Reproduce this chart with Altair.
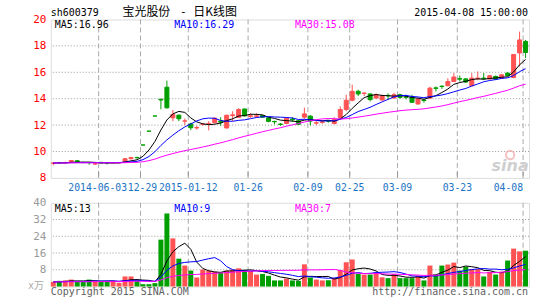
import altair as alt
import pandas as pd

# Daily bars for sh600379, oldest first (price in CNY, volume in 万手)
opens = [9.10, 9.15, 9.14, 9.20, 9.30, 9.18, 9.17, 9.05, 9.18, 9.15,
         9.14, 9.15, 9.25, 9.45, 9.55, 10.49, 11.54, 12.69, 13.96, 14.87,
         12.55, 12.75, 12.30, 12.08, 11.78, 12.05, 12.08, 12.18, 12.30, 11.78,
         12.72, 12.58, 13.22, 12.66, 12.66, 12.72, 12.55, 12.28, 12.08, 12.12,
         12.45, 12.33, 12.60, 12.68, 12.15, 12.20, 12.33, 12.12, 12.55, 13.18,
         13.88, 14.56, 14.40, 14.36, 14.05, 13.90, 14.25, 14.05, 14.30, 14.12,
         14.10, 13.60, 13.90, 14.05, 14.82, 14.95, 14.98, 15.30, 15.52, 15.50,
         14.98, 15.52, 15.56, 15.50, 15.69, 15.56, 15.94, 15.60, 17.46, 18.34]
highs = [9.16, 9.17, 9.22, 9.35, 9.32, 9.20, 9.19, 9.12, 9.20, 9.17,
         9.17, 9.17, 9.50, 9.58, 9.60, 10.49, 11.54, 12.69, 13.96, 15.37,
         13.15, 12.80, 12.50, 12.18, 11.95, 12.15, 12.30, 12.60, 12.60, 12.78,
         13.05, 13.28, 13.25, 12.90, 12.90, 12.75, 12.58, 12.33, 12.15, 12.55,
         12.60, 12.36, 13.32, 12.75, 12.32, 12.35, 12.38, 12.60, 13.42, 14.30,
         15.06, 14.68, 14.45, 14.40, 14.40, 14.30, 14.40, 14.45, 14.38, 14.30,
         14.30, 14.00, 13.95, 14.90, 14.92, 15.00, 15.55, 15.94, 15.75, 15.55,
         15.94, 16.06, 15.94, 15.80, 15.75, 15.85, 16.00, 17.38, 19.08, 18.45]
lows = [8.95, 9.12, 9.10, 9.18, 9.15, 9.12, 9.00, 8.98, 9.10, 9.02,
        9.12, 9.13, 9.22, 9.40, 9.45, 10.49, 11.54, 12.69, 13.20, 13.25,
        12.30, 12.30, 12.00, 11.62, 11.65, 11.95, 11.60, 12.15, 11.95, 11.75,
        12.30, 12.55, 12.65, 12.55, 12.55, 12.55, 12.22, 12.05, 11.95, 12.10,
        12.25, 12.02, 12.48, 11.97, 12.00, 12.10, 12.18, 12.05, 12.40, 13.05,
        13.80, 14.20, 14.20, 13.80, 14.00, 13.85, 13.92, 14.00, 14.00, 13.95,
        13.68, 13.55, 13.70, 14.00, 14.55, 14.75, 14.95, 15.28, 15.30, 15.20,
        14.95, 15.40, 15.40, 15.45, 15.45, 15.50, 15.70, 15.55, 16.44, 17.08]
closes = [9.13, 9.15, 9.17, 9.32, 9.18, 9.16, 9.15, 9.07, 9.13, 9.14,
          9.16, 9.16, 9.45, 9.55, 9.53, 10.49, 11.54, 12.69, 13.90, 13.31,
          12.80, 12.48, 12.32, 11.80, 11.82, 12.08, 12.12, 12.52, 12.22, 12.75,
          12.78, 13.18, 12.70, 12.70, 12.70, 12.60, 12.28, 12.25, 12.05, 12.52,
          12.40, 12.06, 12.85, 12.30, 12.18, 12.24, 12.29, 12.42, 13.18, 13.88,
          14.56, 14.36, 14.43, 13.93, 14.30, 14.22, 14.22, 14.30, 14.10, 14.10,
          13.73, 13.98, 13.86, 14.80, 14.78, 14.92, 15.30, 15.64, 15.48, 15.26,
          15.56, 15.56, 15.52, 15.74, 15.49, 15.81, 15.74, 17.35, 18.45, 17.50]
volumes = [2.2, 2.7, 2.9, 3.3, 2.2, 2.2, 3.3, 2.7, 2.4, 2.4,
           2.4, 1.7, 4.8, 4.8, 2.9, 1.1, 1.1, 1.6, 22.4, 34.9,
           23.0, 13.3, 10.0, 7.6, 4.3, 8.1, 7.6, 7.1, 6.7, 7.6,
           8.1, 8.7, 7.9, 7.5, 5.7, 6.0, 5.1, 2.9, 2.9, 3.8,
           2.9, 2.7, 10.6, 4.3, 3.3, 2.9, 3.0, 4.1, 7.9, 11.6,
           12.9, 6.0, 5.7, 5.7, 6.8, 4.4, 4.0, 5.9, 4.0, 4.0,
           4.0, 5.1, 2.9, 10.0, 5.7, 10.0, 10.5, 11.4, 7.6, 9.5,
           8.3, 8.3, 4.8, 7.0, 5.7, 7.1, 12.4, 18.1, 16.8, 17.1]

# Date ticks: bar slot and label
tick_slots = [8, 15, 23, 33, 43, 50, 58, 68, 79]
tick_labels = ["2014-06-03", "12-29", "2015-01-12", "01-26", "02-09",
               "02-25", "03-09", "03-23", "04-08"]

ma_windows = [5, 10, 30]
ma_colors = ["#000000", "#0000ff", "#ff00ff"]
price_ma_labels = ["MA5:16.96", "MA10:16.29", "MA30:15.08"]
volume_ma_labels = ["MA5:13", "MA10:9", "MA30:7"]
legend_x = [4, 124, 245]

price_ticks = [8, 10, 12, 14, 16, 18, 20]
volume_ticks = [8, 16, 24, 32, 40]

UP, DOWN = "#ff5252", "#009f00"
GRID = "#aaaaaa"
MONO = "DejaVu Sans Mono"
CJK = "Noto Sans CJK SC"
W, H_PRICE, H_VOL = 480, 159, 84
SLOTS = 80


def moving_average(values, n):
    # the series was flat before the first bar, so pad with the first value
    s = pd.Series([values[0]] * (n - 1) + list(values), dtype=float)
    return s.rolling(n).mean().iloc[n - 1:].round(4).tolist()


n = len(closes)
bars = pd.DataFrame({
    "slot": list(range(n)),
    "open": opens, "high": highs, "low": lows, "close": closes,
    "volume": volumes,
})
bars["body_l"] = bars["slot"] + 0.5 / 6
bars["body_r"] = bars["slot"] + 4.5 / 6
bars["mid"] = bars["slot"] + 2.5 / 6
bars["vol_r"] = bars["slot"] + 5 / 6
bars["dir"] = ["up" if c > o else "down" for o, c in zip(opens, closes)]
for w in ma_windows:
    bars[f"ma{w}"] = moving_average(closes, w)
    bars[f"vma{w}"] = moving_average(volumes, w)

ticks = pd.DataFrame({"slot": tick_slots, "label": tick_labels})

x_scale = alt.Scale(domain=[0, SLOTS], nice=False, zero=False)
X_NONE = dict(scale=x_scale, axis=None)
dir_color = alt.Color("dir:N", scale=alt.Scale(domain=["up", "down"], range=[UP, DOWN]), legend=None)


def y_axis(values, color):
    return alt.Axis(values=values, labelColor=color, labelFont=MONO, labelFontSize=11,
                    labelOverlap=False, grid=False, domain=False, ticks=False,
                    labelPadding=5, title=None)


def hgrid(values, scale, axis):
    return alt.Chart(pd.DataFrame({"v": values})).mark_rule(
        color="#999999", strokeDash=[1, 2], strokeWidth=1
    ).encode(y=alt.Y("v:Q", scale=scale, axis=axis))


def vgrid():
    return alt.Chart(ticks).mark_rule(color=GRID, strokeDash=[5, 3], strokeWidth=1).encode(
        x=alt.X("slot:Q", **X_NONE))


def label(text, x, y, color="#000000", size=10, font=MONO, align="left", **kw):
    return alt.Chart(pd.DataFrame({"t": [text]})).mark_text(
        align=align, baseline="alphabetic", font=font, fontSize=size, color=color, **kw
    ).encode(x=alt.value(x), y=alt.value(y), text="t:N")


# ---------- price panel ----------
base = alt.Chart(bars)
price_y = alt.Scale(domain=[8, 20], nice=False, zero=False)
price_axis = y_axis(price_ticks, "#ff0000")

bottom_ticks = alt.Chart(ticks).mark_rule(color="#999999").encode(
    x=alt.X("slot:Q", **X_NONE), y=alt.value(H_PRICE - 6), y2=alt.value(H_PRICE))

wicks = base.mark_rule(strokeWidth=1).encode(
    x=alt.X("mid:Q", **X_NONE),
    y=alt.Y("low:Q", scale=price_y, axis=price_axis),
    y2="high:Q",
    color=dir_color)

bodies = base.mark_rect(strokeWidth=1).encode(
    x=alt.X("body_l:Q", **X_NONE), x2="body_r:Q",
    y=alt.Y("open:Q", scale=price_y, axis=price_axis), y2="close:Q",
    fill=dir_color, stroke=dir_color)

price_ma = [
    base.mark_line(strokeWidth=1, color=c).encode(
        x=alt.X("mid:Q", **X_NONE),
        y=alt.Y(f"ma{w}:Q", scale=price_y, axis=price_axis))
    for w, c in zip(ma_windows, ma_colors)
]

date_layers = []
for s, t in zip(tick_slots, tick_labels):
    align = "right" if s == tick_slots[-1] else "center"
    dx = -1 if s == tick_slots[0] else (2 if s == tick_slots[1] else 0)
    date_layers.append(
        alt.Chart(pd.DataFrame({"slot": [s], "t": [t]})).mark_text(
            baseline="alphabetic", font=MONO, fontSize=9.8, color="#1a73c4", align=align, dx=dx
        ).encode(x=alt.X("slot:Q", **X_NONE), y=alt.value(H_PRICE + 13), text="t:N"))

price_texts = [label(t, x, 9, c) for t, x, c in zip(price_ma_labels, legend_x, ma_colors)]
price_texts += [
    label("sh600379", 0, -3),
    label("宝光股份", 72, -3, size=12, font=CJK),
    label("-", 131, -3, size=12, font=CJK),
    label("日K线图", 143, -3, size=12, font=CJK),
    label("2015-04-08 15:00:00", W - 1, -3, align="right"),
    label("sina", 461, 152, color="#cfcfcf", size=16, font="DejaVu Sans",
          align="center", fontStyle="italic", fontWeight="bold"),
]
sina_eye = alt.Chart(pd.DataFrame({"a": [0]})).mark_point(
    shape="circle", size=70, color="#f2a8a8", strokeWidth=2, filled=False
).encode(x=alt.value(461), y=alt.value(136))

price = alt.layer(
    hgrid(price_ticks[1:-1], price_y, price_axis), vgrid(), bottom_ticks, wicks, bodies,
    *price_ma, *date_layers, sina_eye, *price_texts
).properties(width=W, height=H_PRICE)

# ---------- volume panel ----------
vol_y = alt.Scale(domain=[0, 40], nice=False, zero=True)
vol_axis = y_axis(volume_ticks, "#999999")

vbars = base.mark_rect().encode(
    x=alt.X("slot:Q", **X_NONE), x2="vol_r:Q",
    y=alt.Y("volume:Q", scale=vol_y, axis=vol_axis), y2=alt.datum(0),
    fill=dir_color)

vol_ma = [
    base.mark_line(strokeWidth=1, color=c).encode(
        x=alt.X("mid:Q", **X_NONE),
        y=alt.Y(f"vma{w}:Q", scale=vol_y, axis=vol_axis))
    for w, c in zip(ma_windows, ma_colors)
]

vol_texts = [label(t, x, 9, c) for t, x, c in zip(volume_ma_labels, legend_x, ma_colors)]
vol_texts += [
    label("x万", -7, H_VOL + 3, color="#aaaaaa", font=f"{MONO}, {CJK}", align="right"),
    label("Copyright 2015 SINA.COM", 0, H_VOL + 9, color="#606060"),
    label("http://finance.sina.com.cn", W - 1, H_VOL + 9, color="#606060", align="right"),
]

volume = alt.layer(
    hgrid(volume_ticks[:-1], vol_y, vol_axis), vgrid(), vbars, *vol_ma, *vol_texts
).properties(width=W, height=H_VOL)

chart = alt.vconcat(price, volume, spacing=25, bounds="flush").properties(
    padding={"left": 27, "top": 5, "right": 15, "bottom": 3}
).configure_view(stroke="#999999", strokeWidth=1).configure(background="#ffffff")

chart.save("out.html", embed_options={"renderer": "svg", "actions": False})
